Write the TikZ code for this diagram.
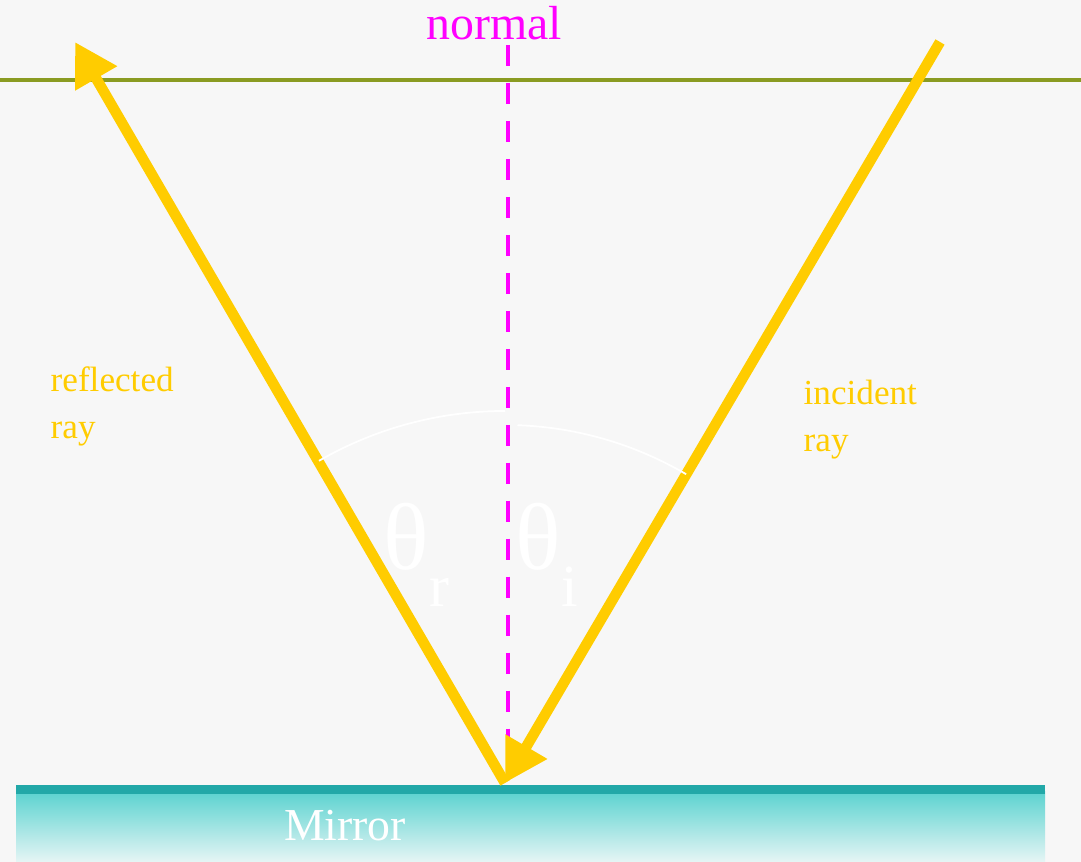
\documentclass[tikz,border=0pt]{standalone}
\usepackage{fontspec}
\setmainfont{Liberation Serif}
\usetikzlibrary{arrows.meta}
\definecolor{paper}{HTML}{F7F7F7}
\definecolor{raycol}{HTML}{FFCC00}
\definecolor{normalcol}{HTML}{FF00FF}
\definecolor{horizon}{HTML}{8A9B22}
\definecolor{mirrortop}{HTML}{22A8A8}
\definecolor{mirrorhi}{HTML}{5CD3D0}
\definecolor{mirrormid}{HTML}{7AD8D6}
\definecolor{mirrorlo}{HTML}{E6F5F5}
\newcommand{\subtheta}[1]{θ\raisebox{-0.38em}{\fontsize{17}{18}\selectfont #1}}
\tikzset{
  lightray/.style={draw=raycol, line width=3pt, -{Triangle[length=12pt,width=13pt]}},
  normalline/.style={draw=normalcol, line width=1.4pt, dash pattern=on 6pt off 4.8pt},
  raylabel/.style={text=raycol, font=\fontsize{10}{13.4}\selectfont, align=left, anchor=north west, inner sep=0pt},
  anglelabel/.style={text=white, font=\fontsize{27}{30}\selectfont, inner sep=0pt},
  anglearc/.style={draw=white, line width=0.5pt}
}
\begin{document}
\begin{tikzpicture}[x=0.01cm, y=0.01cm]
\useasboundingbox (0,0) rectangle (1081,862);
\fill[paper] (0,0) rectangle (1081,862);
% mirror
\shade[top color=mirrorhi, middle color=mirrormid, bottom color=mirrorlo] (16,0) rectangle (1045,70);
\fill[mirrortop] (16,68) rectangle (1045,77);
\node[text=white, font=\fontsize{13}{15}\selectfont] (mirror) at (345,36) {Mirror};
% surface line
\coordinate (hleft) at (0,782);
\coordinate (hright) at (1081,782);
\draw[horizon, line width=0.9pt] (hleft) -- (hright);
% rays and normal
\coordinate (O) at (505,79);
\coordinate (R) at (75,820);
\coordinate (I) at (940,820);
\coordinate (ntop) at (508,817);
\coordinate (nbot) at (508,87);
\draw[normalline] (ntop) -- (nbot);
\draw[lightray] (O) -- (R);
\draw[lightray] (I) -- (O);
\node[text=normalcol, font=\fontsize{13.6}{16}\selectfont, anchor=base, inner sep=0pt] (normtxt) at (494,822) {normal};
\node[raylabel] (refl) at (50,496) {reflected\\ray};
\node[raylabel] (inc) at (803,483) {incident\\ray};
% angles
\draw[anglearc] (O) ++(90:372) arc[start angle=90, end angle=120, radius=372];
\draw[anglearc] (O) ++(88:358) arc[start angle=88, end angle=59.6, radius=358];
\node[anglelabel, anchor=base west] (thr) at (383,292) {\subtheta{r}};
\node[anglelabel, anchor=base west] (thi) at (515,292) {\subtheta{i}};
\end{tikzpicture}
\end{document}
